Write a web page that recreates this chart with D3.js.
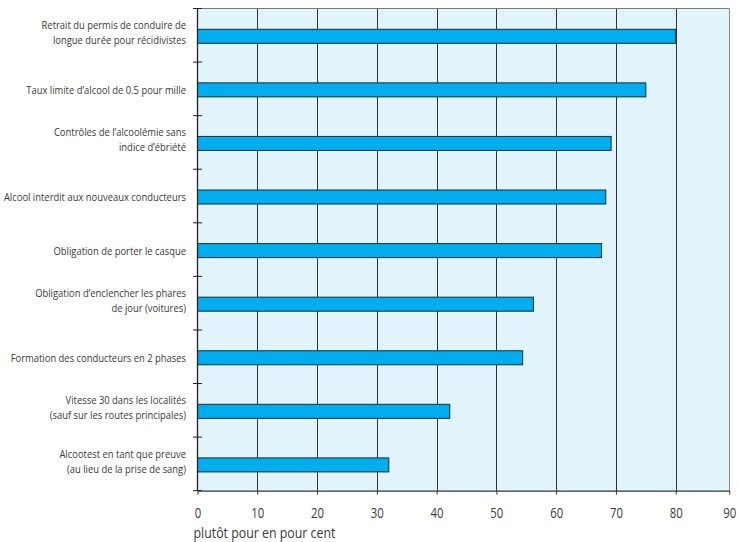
<!DOCTYPE html>
<html>
<head>
<meta charset="utf-8">
<script src="https://cdn.jsdelivr.net/npm/d3@7"></script>
<style>
  html, body { margin: 0; padding: 0; background: #fff; }
  svg { display: block; }
  text { font-family: "Open Sans", "Noto Sans", sans-serif; fill: #3a3a3a; }
</style>
</head>
<body>
<svg id="chart" width="739" height="542"></svg>
<script>
const categories = [
  ["Retrait du permis de conduire de", "longue durée pour récidivistes"],
  ["Taux limite d’alcool de 0.5 pour mille"],
  ["Contrôles de l’alcoolémie sans", "indice d’ébriété"],
  ["Alcool interdit aux nouveaux conducteurs"],
  ["Obligation de porter le casque"],
  ["Obligation d’enclencher les phares", "de jour (voitures)"],
  ["Formation des conducteurs en 2 phases"],
  ["Vitesse 30 dans les localités", "(sauf sur les routes principales)"],
  ["Alcootest en tant que preuve", "(au lieu de la prise de sang)"]
];
const values = [80, 75, 69.2, 68.3, 67.6, 56.2, 54.4, 42.2, 32.0];
const xTicks = [0, 10, 20, 30, 40, 50, 60, 70, 80, 90];
const axisTitle = "plutôt pour en pour cent";

const svg = d3.select("#chart");
const mLeft = 197.5, mTop = 8.5, mBottom = 490.7;

// helper: measure width of a string at a font size
function measure(str, size) {
  const t = svg.append("text").attr("font-size", size).text(str);
  const w = t.node().getComputedTextLength();
  t.remove();
  return w;
}
// condensed look (reference uses a condensed face): horizontal compression factors
const labelSize = 11.6, tickSize = 14.8, titleSize = 14.5;
const sxLabel = 160 / measure(categories[1][0], labelSize);
const sxTick = 13 / measure("10", tickSize);
const sxTitle = 142 / measure(axisTitle, titleSize);

// the reference's last interval (80-90) is narrower: polylinear scale
const x = d3.scaleLinear().domain([0, 80, 90]).range([mLeft, 675.7, 729.3]);
const ids = d3.range(categories.length);
const y = d3.scaleBand().domain(ids).range([mTop, mBottom]).padding(0);
const barH = 14;
const barY = i => y(i) + (y.bandwidth() - barH) / 2 + 1;

// background
svg.append("rect")
  .attr("x", x(0)).attr("y", mTop)
  .attr("width", x(90) - x(0)).attr("height", mBottom - mTop)
  .attr("fill", "#e1f3fb");

// gridlines
svg.append("g").selectAll("line").data(xTicks.slice(1)).join("line")
  .attr("x1", d => Math.round(x(d)) + 0.5).attr("x2", d => Math.round(x(d)) + 0.5)
  .attr("y1", mTop).attr("y2", mBottom)
  .attr("stroke", d => d === 90 ? "#8a8a8a" : "#333").attr("stroke-width", 1);

// top border
svg.append("line")
  .attr("x1", x(0)).attr("x2", x(90)).attr("y1", mTop).attr("y2", mTop)
  .attr("stroke", "#777").attr("stroke-width", 1);

// bars
svg.append("g").selectAll("rect").data(values).join("rect")
  .attr("x", x(0))
  .attr("y", (d, i) => barY(i))
  .attr("width", d => x(d) - x(0))
  .attr("height", barH)
  .attr("fill", "#00aeef")
  .attr("stroke", "#1b2a36").attr("stroke-width", 1);

// x axis
const xAxis = d3.axisBottom(x).tickValues(xTicks).tickSize(4).tickSizeOuter(0);
const gx = svg.append("g").attr("transform", `translate(0,${mBottom})`).call(xAxis);
gx.select(".domain").attr("stroke", "#333").attr("stroke-width", 1.3);
gx.selectAll(".tick line").attr("stroke", "#333");
gx.selectAll(".tick text")
  .attr("font-size", tickSize).attr("fill", "#3a3a3a")
  .attr("y", null).attr("dy", null)
  .attr("transform", `translate(0,26.8) scale(${sxTick},1)`)
  .style("font-family", "'Open Sans', sans-serif");

// y axis line and band ticks
svg.append("line").attr("x1", mLeft).attr("x2", mLeft).attr("y1", mTop).attr("y2", mBottom)
  .attr("stroke", "#222").attr("stroke-width", 1.3);
const bounds = ids.map(i => y(i)).concat([mBottom]);
svg.append("g").selectAll("line").data(bounds).join("line")
  .attr("x1", mLeft - 4.5).attr("x2", mLeft + 4.5)
  .attr("y1", d => d).attr("y2", d => d)
  .attr("stroke", "#222").attr("stroke-width", 1);

// category labels
const lg = svg.append("g");
categories.forEach((lines, i) => {
  const cy = barY(i) + barH / 2;
  lines.forEach((s, k) => {
    const by = lines.length === 1 ? cy + 4 : cy + (k === 0 ? -7.3 : 7.7);
    lg.append("text")
      .attr("text-anchor", "end").attr("font-size", labelSize)
      .attr("transform", `translate(${mLeft - 11.5},${by}) scale(${sxLabel},1)`)
      .text(s);
  });
});

// axis title
svg.append("text")
  .attr("font-size", titleSize)
  .attr("transform", `translate(${mLeft - 4},538) scale(${sxTitle},1)`)
  .text(axisTitle);
</script>
</body>
</html>
